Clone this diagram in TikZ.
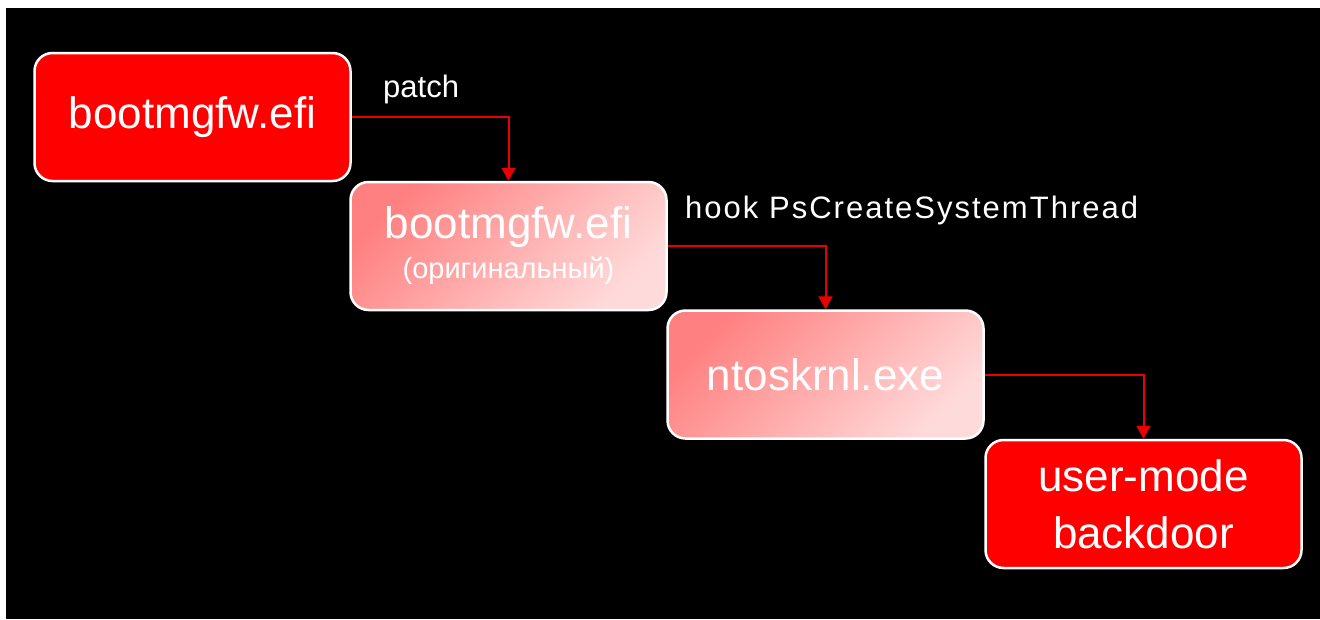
\documentclass[tikz,border=0pt]{standalone}
\usepackage{fontspec}
\setmainfont{Liberation Sans}
\newfontfamily\spacedfont[LetterSpace=6.5]{Liberation Sans}
\usetikzlibrary{arrows.meta}
\definecolor{boxred}{RGB}{255,0,0}
\definecolor{lightA}{RGB}{255,128,128}
\definecolor{lightB}{RGB}{255,218,218}
\definecolor{arrowred}{RGB}{235,0,0}
\tikzset{
  box/.style={draw=white, line width=2.5pt, rounded corners=18pt,
    minimum width=316pt, minimum height=128pt, inner sep=0pt,
    text=white, align=center, font=\fontsize{44}{40}\selectfont},
  solidbox/.style={box, fill=boxred},
  fadebox/.style={box, top color=lightA, bottom color=lightB, shading angle=45},
  conn/.style={draw=arrowred, line width=2pt, -{Triangle[length=13pt,width=14pt]}},
  lab/.style={text=white, font=\fontsize{31}{36}\selectfont, inner sep=0pt, anchor=base west}
}
\begin{document}
\begin{tikzpicture}[x=1pt,y=-1pt]
\useasboundingbox (0,0) rectangle (1320,619);
\fill[white] (0,0) rectangle (1320,619);
\fill[black] (6,8) rectangle (1320,619);

\node[solidbox] (b1) at (192.5,117) {\raisebox{-3pt}{bootmgfw.efi}};
\node[fadebox] (b2) at (508.5,246) {bootmgfw.efi\\{\fontsize{29}{40}\selectfont (оригинальный)}};
\node[fadebox] (b3) at (825.5,374.5) {\raisebox{-3pt}{ntoskrnl.exe}};
\node[solidbox, font=\fontsize{44}{57}\selectfont] (b4) at (1143.5,504) {user-mode\\backdoor};

\node[lab] (l1) at (383,97) {patch};
\node[lab, font=\spacedfont\fontsize{31}{36}\selectfont] (l2) at (685,218) {hook PsCreateSystemThread};

\draw[conn] (b1.east) -| (b2.north);
\draw[conn] (b2.east) -| (b3.north);
\draw[conn] (b3.east) -| (b4.north);
\end{tikzpicture}
\end{document}
